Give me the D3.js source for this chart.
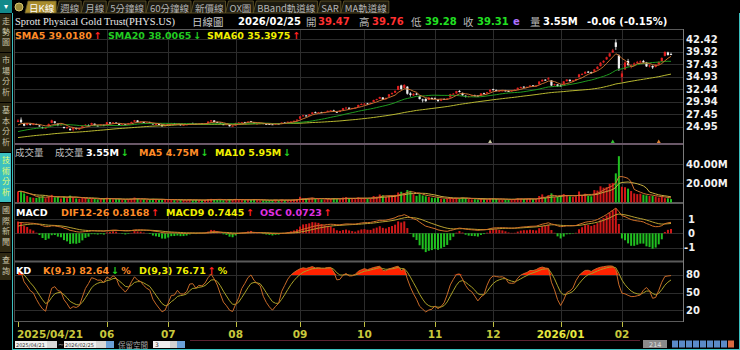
<!DOCTYPE html>
<html>
<head>
<meta charset="utf-8">
<script src="https://cdn.jsdelivr.net/npm/d3@7/dist/d3.min.js"></script>
<style>
  body { margin: 0; background: #000; }
  text { font-family: "DejaVu Sans", Verdana, sans-serif; }
</style>
</head>
<body>
<svg id="kchart" width="740" height="350"></svg>
<script>
// ---- data (daily, 2025/04/21 .. 2026/02/25) ----
// closes before the first visible bar, only used to warm up the indicators
let preClose = [21.06,21.18,20.95,21.12,21.10,21.37,21.39,
  21.52,21.74,21.96,21.83,21.94,21.87,22.23,22.16,22.19,22.39,22.03,22.44,22.44,22.48,22.45,22.55,22.29,22.06,21.85,
  22.12,22.31,22.32,22.25,22.25,22.09,22.30,22.52,22.84,22.82,22.94,23.20,23.20,23.29,23.10,23.11,23.03,23.09,23.38,23.59,23.88,
  23.80,23.95,23.80,23.22,22.80,22.80,23.57,24.27,24.75,24.55,24.69,25.56,25.44];

let opens = [25.90,26.35,25.60,25.30,25.55,25.30,25.50,25.20,
  24.85,24.60,25.05,25.70,26.00,25.55,25.35,24.90,24.70,24.55,24.40,24.70,24.40,24.75,25.20,25.25,25.35,25.55,25.20,25.10,25.30,
  25.40,25.80,25.60,25.75,25.55,25.35,25.45,25.40,25.65,25.95,26.20,25.85,25.90,25.70,25.85,25.65,25.40,25.50,25.35,25.05,
  25.30,25.50,25.65,25.35,25.45,25.25,25.35,25.45,25.70,25.55,25.40,25.60,25.50,25.65,25.98,26.20,25.90,25.75,25.45,25.35,25.40,25.05,
  25.20,25.70,25.75,25.85,25.80,26.05,25.85,25.55,25.60,25.68,25.52,25.50,25.45,25.35,25.58,25.50,25.78,25.75,25.92,26.00,26.15,
  26.55,27.05,27.20,27.15,27.50,27.85,27.75,27.85,27.80,27.90,28.15,28.20,27.95,27.90,28.30,28.70,28.75,28.55,28.70,28.90,29.30,
  29.45,29.60,29.50,29.90,30.30,30.55,30.80,30.45,30.95,31.50,31.75,32.30,33.20,32.70,32.95,31.60,31.20,31.55,31.10,30.40,30.50,30.30,30.70,
  30.65,30.45,30.15,30.50,30.40,30.80,31.45,31.60,32.10,31.70,31.15,30.95,31.10,31.20,31.15,31.15,31.65,31.60,31.95,
  32.45,32.30,32.10,32.15,32.20,32.10,32.00,32.15,32.35,32.75,32.95,32.85,32.95,33.20,33.10,33.40,34.00,34.35,34.40,34.20,33.25,33.40,
  33.20,33.50,34.05,34.35,34.00,34.25,34.85,35.35,35.55,35.95,35.85,35.95,36.50,37.05,37.80,38.40,39.00,39.80,41.80,39.20,
  34.90,36.40,38.10,37.00,37.30,37.70,37.85,38.10,37.80,37.05,37.10,36.90,37.40,38.00,39.10,39.80,39.47];

let highs = [26.45,26.80,25.70,25.70,25.62,25.65,25.55,25.28,
  24.95,24.88,25.58,26.35,26.05,25.60,25.55,24.95,24.95,24.60,24.85,24.75,24.75,25.20,25.45,25.40,25.75,25.58,25.30,25.45,25.40,
  25.90,25.88,25.85,25.85,25.60,25.50,25.50,25.70,25.95,26.30,26.25,26.00,25.95,25.85,25.95,25.68,25.55,25.58,25.38,25.30,
  25.58,25.72,25.70,25.55,25.48,25.40,25.48,25.70,25.75,25.60,25.68,25.65,25.66,26.02,26.30,26.25,25.95,25.78,25.50,25.48,25.42,25.22,
  25.75,25.85,25.90,25.92,26.02,26.10,25.88,25.66,25.72,25.70,25.58,25.55,25.48,25.65,25.62,25.82,25.82,25.98,26.02,26.18,26.42,
  27.08,27.30,27.25,27.50,27.85,27.98,27.90,27.92,27.92,28.18,28.30,28.35,28.00,28.22,28.70,28.92,28.80,28.72,28.82,29.35,29.62,
  29.65,29.70,29.78,30.35,30.55,30.95,30.85,30.78,31.48,31.80,32.18,33.15,33.35,33.45,33.05,31.85,31.65,31.70,31.15,30.55,30.65,30.85,30.80,
  30.80,30.50,30.50,30.60,30.65,31.52,31.70,32.12,32.25,31.75,31.20,31.15,31.30,31.35,31.25,31.68,31.75,31.90,32.40,
  32.55,32.38,32.25,32.28,32.30,32.18,32.25,32.40,32.80,32.98,33.05,32.98,33.25,33.28,33.25,34.02,34.40,34.45,34.85,34.25,33.55,33.45,
  33.40,34.10,34.45,34.40,34.30,34.55,35.50,35.65,36.05,36.10,35.95,36.50,37.05,37.85,38.25,38.95,39.75,40.50,42.42,39.40,
  36.10,38.00,38.50,37.45,37.80,38.10,38.20,38.30,37.90,37.40,37.20,37.45,38.00,38.80,40.00,39.95,39.76];

let lows = [25.85,25.70,25.05,25.20,25.20,25.25,25.28,24.95,
  24.60,24.55,25.00,25.65,25.55,25.05,25.20,24.55,24.55,24.15,24.00,24.35,24.30,24.70,25.10,25.05,25.30,25.15,25.00,25.05,25.05,
  25.35,25.50,25.55,25.55,25.25,25.28,25.25,25.35,25.60,25.90,25.80,25.75,25.68,25.62,25.65,25.35,25.35,25.38,24.98,25.00,
  25.25,25.45,25.35,25.28,25.18,25.20,25.30,25.40,25.50,25.35,25.35,25.45,25.45,25.60,25.95,25.82,25.70,25.45,25.28,25.30,24.98,24.98,
  25.15,25.65,25.70,25.70,25.75,25.90,25.50,25.48,25.55,25.45,25.42,25.40,25.28,25.30,25.48,25.45,25.68,25.70,25.88,25.95,26.10,
  26.50,26.98,27.00,27.10,27.45,27.65,27.68,27.70,27.72,27.85,28.08,27.90,27.70,27.85,28.25,28.62,28.48,28.45,28.60,28.85,29.25,
  29.35,29.40,29.45,29.85,30.20,30.50,30.30,30.35,30.90,31.35,31.70,32.25,32.30,32.65,31.35,30.95,31.10,31.25,30.40,29.80,29.95,30.25,30.45,
  30.45,29.95,30.05,30.30,30.30,30.75,31.35,31.55,31.80,31.10,30.80,30.80,31.00,31.05,30.95,31.10,31.50,31.55,31.90,
  32.20,32.05,32.00,32.05,32.02,31.90,31.95,32.10,32.30,32.65,32.80,32.75,32.90,33.00,33.00,33.35,33.95,34.15,34.35,33.05,33.15,32.95,
  32.95,33.45,33.98,33.95,33.90,34.20,34.80,35.25,35.45,35.70,35.55,35.90,36.40,37.00,37.65,38.30,38.90,39.70,40.30,36.10,
  33.90,36.30,37.00,36.60,37.10,37.50,37.70,37.60,36.90,36.80,36.50,36.80,37.30,37.90,39.00,39.15,39.28];

let closes = [26.18,25.84,25.15,25.61,25.38,25.57,25.34,25.15,
  24.77,24.77,25.50,26.22,25.73,25.27,25.42,24.73,24.85,24.27,24.77,24.50,24.69,25.15,25.34,25.19,25.67,25.23,25.15,25.34,25.15,
  25.84,25.61,25.80,25.61,25.31,25.42,25.38,25.65,25.88,26.24,25.88,25.92,25.76,25.75,25.75,25.42,25.48,25.44,25.03,25.25,
  25.52,25.67,25.43,25.50,25.24,25.33,25.42,25.65,25.56,25.42,25.59,25.52,25.61,25.97,26.23,25.89,25.75,25.51,25.34,25.43,25.04,25.15,
  25.70,25.79,25.84,25.76,25.97,25.98,25.56,25.60,25.66,25.50,25.50,25.47,25.35,25.60,25.53,25.78,25.73,25.94,25.97,26.12,26.36,
  27.01,27.22,27.10,27.42,27.80,27.72,27.84,27.78,27.85,28.13,28.21,27.97,27.85,28.17,28.64,28.77,28.56,28.66,28.75,29.30,29.50,
  29.56,29.49,29.71,30.28,30.47,30.89,30.39,30.71,31.42,31.67,32.11,33.07,32.49,33.30,31.54,31.31,31.54,31.44,30.47,30.24,30.05,30.77,30.58,
  30.58,30.06,30.43,30.41,30.58,31.46,31.55,32.07,31.88,31.23,30.93,31.08,31.17,31.18,31.08,31.61,31.59,31.84,32.34,
  32.34,32.15,32.15,32.19,32.11,32.03,32.19,32.34,32.72,32.87,32.91,32.91,33.18,33.10,33.18,33.98,34.33,34.25,34.63,33.18,33.45,33.03,
  33.10,34.02,34.37,34.06,34.23,34.48,35.40,35.50,35.90,35.80,35.70,36.39,36.93,37.73,38.11,38.84,39.60,40.20,40.90,36.60,
  35.60,37.80,37.30,37.20,37.60,37.90,38.00,37.80,37.00,37.20,36.80,37.30,37.90,38.70,39.90,39.30,39.31];

// volume in millions of shares
let volumes = [11.5,12.0,9.5,7.0,5.5,5.0,4.8,6.2,
  7.0,4.5,6.5,8.0,5.5,5.8,4.2,6.0,4.5,7.2,5.5,4.2,3.8,5.0,4.8,3.5,4.0,3.8,3.2,3.5,4.2,
  5.0,3.8,3.2,3.5,3.8,2.8,3.0,3.5,4.0,5.2,4.2,3.0,3.2,2.8,3.0,3.8,2.9,2.6,3.6,3.0,
  3.2,2.8,2.5,2.2,3.0,2.6,2.4,3.1,2.5,2.8,2.4,2.2,2.6,3.4,3.8,3.5,2.7,2.9,2.4,2.3,3.5,2.8,
  3.8,2.9,2.6,2.4,3.0,2.7,3.6,2.5,2.2,2.4,2.1,2.3,2.6,2.9,2.2,3.1,2.4,2.7,2.5,2.9,3.6,
  6.0,4.2,3.8,4.5,5.0,3.6,3.9,3.3,3.1,4.0,3.7,4.6,3.9,3.4,5.2,5.6,4.3,3.8,3.5,5.5,4.9,
  4.6,3.9,4.2,6.8,6.2,8.4,7.6,5.8,7.2,6.9,8.0,10.5,11.2,9.8,13.0,12.2,8.6,7.0,8.8,7.4,6.5,5.8,5.0,
  4.6,5.8,4.0,3.6,3.8,5.2,4.1,5.0,4.4,5.3,4.7,3.6,3.3,3.5,3.1,4.0,3.4,3.2,4.2,
  4.4,3.8,3.2,3.0,2.9,3.1,3.3,3.6,4.5,4.1,3.6,3.9,4.0,3.4,3.5,6.8,8.5,5.2,7.8,9.6,5.6,6.0,
  7.2,8.8,7.6,6.5,5.8,6.4,11.5,8.0,9.2,7.0,6.5,13.0,12.5,17.0,15.5,16.0,19.5,20.5,30.5,48.5,
  16.5,16.0,14.5,12.0,9.5,8.8,9.2,8.2,7.5,6.8,6.9,6.35,5.2,6.1,4.5,4.4,3.55];

let tickIdx = [0, 29, 49, 71, 92, 113, 136, 155, 177, 197];
let tickLabels = ["2025/04/21", "06", "07", "08", "09", "10", "11", "12", "2026/01", "02"];
let priceTicks = [42.42, 39.92, 37.43, 34.93, 32.44, 29.94, 27.45, 24.95];
let volTicks = [40, 20];
let volTickLabels = ["40.00M", "20.00M"];
let macdTicks = [1, 0, -1];
let kdTicks = [80, 50, 20];
// small event markers under the price bars: [bar index, colour]
let markers = [[154, "#c8c8a0"], [194, "#30c030"], [209, "#e08030"]];

let tabs = ["日K線", "週線", "月線", "5分鐘線", "60分鐘線", "新價線", "OX圖", "BBand軌道線", "SAR", "MA軌道線"];
let sideTabs = ["走勢圖", "市場分析", "基本分析", "技術分析", "國際新聞", "查詢"];

// quote header: [text, colour, bold]
let quote = [
  ["日線圖", "#c8c8c8", 0], ["2026/02/25", "#ffffff", 1], ["開", "#b8b8b8", 0], ["39.47", "#ff3030", 1],
  ["高", "#b8b8b8", 0], ["39.76", "#ff3030", 1], ["低", "#b8b8b8", 0], ["39.28", "#22e022", 1],
  ["收", "#b8b8b8", 0], ["39.31", "#22e022", 1], ["e", "#b070ff", 1], ["量", "#b8b8b8", 0],
  ["3.55M", "#ffffff", 1], ["-0.06 (-0.15%)", "#ffffff", 1]
];
let quoteX = [192, 238, 306, 318, 359, 372, 411, 425, 463, 477, 513, 530, 543, 587];

// legends: [x, label, colour, arrow, suffix]
let maLegend = [[15, "SMA5 39.0180", "#ff8c28", "↑"], [108, "SMA20 38.0065", "#22cc22", "↓"], [207, "SMA60 35.3975", "#f0f000", "↑"]];
let volLegend = [[86, "3.55M", "#ffffff", "↓"], [139, "MA5 4.75M", "#ff8c28", "↓"], [215, "MA10 5.95M", "#f0f000", "↓"]];
let macdLegend = [[16, "MACD", "#ffffff", ""], [61, "DIF12-26 0.8168", "#ff8c28", "↑"], [166, "MACD9 0.7445", "#f0f000", "↑"], [260, "OSC 0.0723", "#e030e0", "↑"]];
let kdLegend = [[16, "KD", "#ffffff", ""], [43, "K(9,3) 82.64", "#ff8c28", "↓", "%"], [139, "D(9,3) 76.71", "#f0f000", "↑", "%"]];

let cjk = "'Noto Sans CJK TC', sans-serif";
let upRed = "#ff2020", downGreen = "#22d022";

// ---- indicators ----
let all = preClose.concat(closes);
let allHigh = preClose.concat(highs);
let allLow = preClose.concat(lows);
let off = preClose.length;

function sma(src, n) {
  return src.map((_, i) => d3.mean(src.slice(Math.max(0, i - n + 1), i + 1)));
}
function ema(src, n) {
  let a = 2 / (n + 1), e = src[0];
  return src.map(v => (e += a * (v - e)));
}

let sma5 = sma(all, 5).slice(off);
let sma20 = sma(all, 20).slice(off);
let sma60 = sma(all, 60).slice(off);

let e12 = ema(all, 12), e26 = ema(all, 26);
let difAll = all.map((_, i) => e12[i] - e26[i]);
let sigAll = ema(difAll, 9);
let dif = difAll.slice(off);
let sig = sigAll.slice(off);
let osc = dif.map((v, i) => v - sig[i]);

let kAll = [], dAll = [];
let k = 50, d = 50;
all.forEach((c, i) => {
  let lo = d3.min(allLow.slice(Math.max(0, i - 8), i + 1));
  let hi = d3.max(allHigh.slice(Math.max(0, i - 8), i + 1));
  let rsv = hi === lo ? 50 : (c - lo) / (hi - lo) * 100;
  k = k * 2 / 3 + rsv / 3;
  d = d * 2 / 3 + k / 3;
  kAll.push(k);
  dAll.push(d);
});
let kLine = kAll.slice(off), dLine = dAll.slice(off);

let volMa5 = sma(volumes, 5), volMa10 = sma(volumes, 10);

// ---- layout ----
let svg = d3.select("#kchart");
let plotL = 15, plotR = 683;
let x = d3.scaleLinear().domain([0, closes.length - 1]).range([18, 671]);
let yP = d3.scaleLinear().domain([24.95, 42.42]).range([126.7, 39.3]);
let yV = d3.scaleLinear().domain([0, 40]).range([202.5, 164.3]);
let yM = d3.scaleLinear().domain([-1, 1]).range([247.7, 219]);
let oscMax = d3.max(osc, v => Math.abs(v));
let yO = d3.scaleLinear().domain([-oscMax, oscMax]).range([233.3 + 25, 233.3 - 25]);
let yK = d3.scaleLinear().domain([0, 100]).range([321.7, 263.3]);

svg.append("rect").attr("width", 740).attr("height", 350).attr("fill", "#000");

// grid
let grid = svg.append("g").attr("stroke", "#2c2c2c").attr("stroke-width", 1);
grid.selectAll("line.v").data(tickIdx.slice(1)).enter().append("line")
  .attr("x1", i => Math.round(x(i)) + 0.5).attr("x2", i => Math.round(x(i)) + 0.5)
  .attr("y1", 30).attr("y2", 321);
let hLines = priceTicks.map(yP).concat(volTicks.map(yV), macdTicks.map(yM), kdTicks.map(yK));
grid.selectAll("line.h").data(hLines).enter().append("line")
  .attr("x1", plotL).attr("x2", plotR)
  .attr("y1", y => Math.round(y) + 0.5).attr("y2", y => Math.round(y) + 0.5);

// panel frames
let frame = svg.append("g");
[[29.5, "#5a5a5a", 1], [144, "#6a5868", 2], [203, "#5a5a5a", 2], [261.5, "#5a5a5a", 2], [321.5, "#5a5a5a", 1]].forEach(([y, c, w]) => {
  frame.append("line").attr("x1", plotL).attr("x2", plotR).attr("y1", y).attr("y2", y)
    .attr("stroke", c).attr("stroke-width", w);
});
frame.append("line").attr("x1", plotR + 0.5).attr("x2", plotR + 0.5).attr("y1", 29).attr("y2", 322).attr("stroke", "#7a7a7a");
frame.append("line").attr("x1", plotL - 0.5).attr("x2", plotL - 0.5).attr("y1", 29).attr("y2", 322).attr("stroke", "#4a4a4a");

// ---- price panel ----
let lineOf = (ys, y) => d3.line().x((_, i) => x(i)).y(v => y(v))(ys);

let candles = svg.append("g").selectAll("g").data(closes).enter().append("g");
candles.append("line")
  .attr("x1", (_, i) => x(i)).attr("x2", (_, i) => x(i))
  .attr("y1", (_, i) => yP(highs[i])).attr("y2", (_, i) => yP(lows[i]))
  .attr("stroke", (c, i) => c >= opens[i] ? "#e02020" : "#f0f0f0").attr("stroke-width", 0.8);
candles.append("rect")
  .attr("x", (_, i) => x(i) - 1.1).attr("width", 2.2)
  .attr("y", (c, i) => yP(Math.max(c, opens[i])))
  .attr("height", (c, i) => Math.max(1, Math.abs(yP(c) - yP(opens[i]))))
  .attr("fill", (c, i) => c >= opens[i] ? "#e02020" : "#f0f0f0");

[[sma60, "#b8b830"], [sma20, "#1f9a1f"], [sma5, "#c87030"]].forEach(([s, c]) => {
  svg.append("path").attr("d", lineOf(s, yP)).attr("fill", "none").attr("stroke", c).attr("stroke-width", 1);
});

svg.append("g").selectAll("path").data(markers).enter().append("path")
  .attr("d", ([i]) => `M${x(i) - 2},143 L${x(i)},139.5 L${x(i) + 2},143 Z`)
  .attr("fill", ([, c]) => c);

// ---- volume panel ----
svg.append("g").selectAll("rect").data(volumes).enter().append("rect")
  .attr("x", (_, i) => x(i) - 1).attr("width", 2)
  .attr("y", v => yV(v)).attr("height", v => yV(0) - yV(v))
  .attr("fill", (_, i) => closes[i] >= opens[i] ? "#d01818" : "#20c020");
[[volMa10, "#c8b040"], [volMa5, "#d07030"]].forEach(([s, c]) => {
  svg.append("path").attr("d", lineOf(s, yV)).attr("fill", "none").attr("stroke", c).attr("stroke-width", 1);
});

// ---- MACD panel ----
svg.append("g").selectAll("rect").data(osc).enter().append("rect")
  .attr("x", (_, i) => x(i) - 1).attr("width", 2)
  .attr("y", v => Math.min(yO(v), yO(0))).attr("height", v => Math.abs(yO(v) - yO(0)))
  .attr("fill", v => v >= 0 ? "#d01818" : "#20c020");
[[sig, "#b8a030"], [dif, "#d07028"]].forEach(([s, c]) => {
  svg.append("path").attr("d", lineOf(s, yM)).attr("fill", "none").attr("stroke", c).attr("stroke-width", 1);
});

// ---- KD panel ----
svg.append("path")
  .attr("d", d3.area().x((_, i) => x(i)).y0(yK(80)).y1(v => yK(Math.max(80, v)))(kLine))
  .attr("fill", "#ff2200");
[[dLine, "#a8a028"], [kLine, "#c86a28"]].forEach(([s, c]) => {
  svg.append("path").attr("d", lineOf(s, yK)).attr("fill", "none").attr("stroke", c).attr("stroke-width", 1);
});

// ---- right axis labels ----
let axisText = svg.append("g").attr("fill", "#f2f2f2").style("font-size", "10px").style("font-weight", "bold");
priceTicks.forEach(v => axisText.append("text").text(v.toFixed(2)).attr("x", 686).attr("y", yP(v)).attr("dominant-baseline", "central"));
volTicks.forEach((v, i) => axisText.append("text").text(volTickLabels[i]).attr("x", 686).attr("y", yV(v)).attr("dominant-baseline", "central"));
macdTicks.forEach(v => axisText.append("text").text(v).attr("x", v < 0 ? 684 : 688).attr("y", yM(v)).attr("dominant-baseline", "central"));
kdTicks.forEach(v => axisText.append("text").text(v).attr("x", 686).attr("y", yK(v)).attr("dominant-baseline", "central"));

// ---- date axis ----
svg.append("g").selectAll("line").data(tickIdx).enter().append("line")
  .attr("x1", i => Math.round(x(i)) + 0.5).attr("x2", i => Math.round(x(i)) + 0.5)
  .attr("y1", 322).attr("y2", 327).attr("stroke", "#c0c040");
svg.append("g").selectAll("text").data(tickIdx).enter().append("text")
  .text((_, j) => tickLabels[j])
  .attr("x", (i, j) => j === 0 ? x(i) - 1 : x(i))
  .attr("y", 334).attr("dominant-baseline", "central")
  .attr("text-anchor", (_, j) => j === 0 ? "start" : "middle")
  .attr("fill", (_, j) => tickLabels[j].length > 2 && j > 0 ? "#e8e840" : "#c8c83c")
  .style("font-size", "10.5px").style("font-weight", "bold");

// ---- legends ----
function legend(items, y) {
  items.forEach(([lx, label, c, arrow, suffix]) => {
    let t = svg.append("text").attr("x", lx).attr("y", y).attr("dominant-baseline", "central")
      .style("font-size", "9.5px").style("font-weight", "bold");
    t.append("tspan").text(label).attr("fill", c);
    if (arrow) t.append("tspan").text(arrow).attr("dx", 2).attr("fill", arrow === "↑" ? upRed : downGreen);
    if (suffix) t.append("tspan").text(suffix).attr("dx", 2).attr("fill", c);
  });
}
legend(maLegend, 35);
legend(volLegend, 152);
legend(macdLegend, 211.5);
legend(kdLegend, 269.5);
svg.append("text").text("成交量").attr("x", 15).attr("y", 152).attr("dominant-baseline", "central")
  .attr("fill", "#c0c0c0").style("font-family", cjk).style("font-size", "9.5px");
svg.append("text").text("成交量").attr("x", 55).attr("y", 152).attr("dominant-baseline", "central")
  .attr("fill", "#c0c0c0").style("font-family", cjk).style("font-size", "9.5px");

// ---- quote header ----
svg.append("text").text("Sprott Physical Gold Trust(PHYS.US)").attr("x", 15).attr("y", 21)
  .attr("dominant-baseline", "central").attr("fill", "#e8e8e8")
  .attr("textLength", 160).attr("lengthAdjust", "spacingAndGlyphs")
  .style("font-family", "'Liberation Serif', serif").style("font-size", "11px");
quote.forEach(([t, c, b], i) => {
  svg.append("text").text(t).attr("x", quoteX[i]).attr("y", 21).attr("dominant-baseline", "central")
    .attr("fill", c)
    .style("font-family", b ? null : cjk)
    .style("font-size", b ? "10px" : "10.5px").style("font-weight", b ? "bold" : "normal");
});

// ---- top tab bar ----
let tabG = svg.append("g");
tabG.append("rect").attr("x", 0).attr("y", 0).attr("width", 12).attr("height", 13).attr("fill", "#138a8a");
tabG.append("text").text("▾").attr("x", 6).attr("y", 6.5).attr("text-anchor", "middle").attr("dominant-baseline", "central")
  .attr("fill", "#fff").style("font-size", "8px");
tabG.append("circle").attr("cx", 19).attr("cy", 7).attr("r", 4).attr("fill", "#9a8a3a").attr("stroke", "#d8c870");
let tx = 25;
tabs.forEach((t, i) => {
  let g = tabG.append("g");
  let path = g.append("path");
  let txt = g.append("text").text(t).attr("x", tx + 4).attr("y", 7.5).attr("dominant-baseline", "central")
    .attr("fill", i === 0 ? "#ffffff" : "#b4b4b4")
    .style("font-family", cjk).style("font-size", "9.5px");
  let w = txt.node().getComputedTextLength() + 6;
  path.attr("d", `M${tx},13 L${tx + 3},1 L${tx + w},1 L${tx + w},13 Z`)
    .attr("fill", i === 0 ? "#a88c2c" : "#1c1a10").attr("stroke", "#6a5c2a").attr("stroke-width", 0.8);
  tx += w;
});

// ---- left side tabs ----
let side = svg.append("g");
let sy = 14;
sideTabs.forEach(t => {
  let h = t.length * 11 + 6;
  let active = t === "技術分析";
  side.append("rect").attr("x", 0).attr("y", sy).attr("width", 11).attr("height", h - 1)
    .attr("fill", active ? "#3cc0c0" : "#2e2812");
  side.append("text").text(t).attr("x", 6).attr("y", sy + 3)
    .style("writing-mode", "vertical-rl").style("letter-spacing", "2.5px")
    .attr("fill", active ? "#e8ff70" : "#c8c4a8")
    .style("font-family", cjk).style("font-size", "8px");
  sy += h;
});
side.append("line").attr("x1", 12.5).attr("x2", 12.5).attr("y1", 13).attr("y2", 350).attr("stroke", "#3cc0c0");

// ---- bottom control row ----
let bottom = svg.append("g");
bottom.append("line").attr("x1", 190).attr("x2", 640).attr("y1", 340.5).attr("y2", 340.5).attr("stroke", "#5a2030");
[[15, 32, "2025/04/21"], [64, 32, "2026/02/25"]].forEach(([bx, bw, t]) => {
  bottom.append("rect").attr("x", bx).attr("y", 341).attr("width", bw).attr("height", 7).attr("fill", "#f0f0f0");
  bottom.append("text").text(t).attr("x", bx + 1).attr("y", 344.5).attr("dominant-baseline", "central")
    .attr("fill", "#333").style("font-size", "5px");
  bottom.append("rect").attr("x", bx + bw).attr("y", 341).attr("width", 10).attr("height", 7).attr("fill", "#d8d8d8");
});
bottom.append("text").text("~").attr("x", 58).attr("y", 344.5).attr("dominant-baseline", "central")
  .attr("fill", "#c0c0c0").style("font-size", "7px");
bottom.append("rect").attr("x", 106).attr("y", 341).attr("width", 8).attr("height", 7).attr("fill", "#6aa0d8");
bottom.append("text").text("保留空間").attr("x", 118).attr("y", 344.5).attr("dominant-baseline", "central")
  .attr("fill", "#a8a8a8").style("font-family", cjk).style("font-size", "7.5px");
bottom.append("rect").attr("x", 153).attr("y", 341).attr("width", 17).attr("height", 7).attr("fill", "#f0f0f0");
bottom.append("text").text("3").attr("x", 155).attr("y", 344.5).attr("dominant-baseline", "central")
  .attr("fill", "#333").style("font-size", "6px");
bottom.append("rect").attr("x", 170).attr("y", 341).attr("width", 7).attr("height", 7).attr("fill", "#d0d0d0");
bottom.append("rect").attr("x", 177).attr("y", 341).attr("width", 8).attr("height", 7).attr("fill", "#6aa0d8");
bottom.append("rect").attr("x", 643).attr("y", 340).attr("width", 24).attr("height", 8).attr("fill", "#8a8a8a");
bottom.append("text").text("214").attr("x", 649).attr("y", 344.5).attr("dominant-baseline", "central")
  .attr("fill", "#e0e0e0").style("font-size", "6.5px");
bottom.selectAll("rect.icon").data([672, 679, 686, 693, 700, 707, 714, 721, 728]).enter().append("rect")
  .attr("x", d => d).attr("y", 340.5).attr("width", 6).attr("height", 7)
  .attr("fill", (d, i) => i === 8 ? "#d86a40" : "#5a8ac8");
bottom.append("line").attr("x1", 12).attr("x2", 740).attr("y1", 349.5).attr("y2", 349.5).attr("stroke", "#3cc0c0");
bottom.append("line").attr("x1", 739.5).attr("x2", 739.5).attr("y1", 13).attr("y2", 350).attr("stroke", "#3cc0c0");
</script>
</body>
</html>
